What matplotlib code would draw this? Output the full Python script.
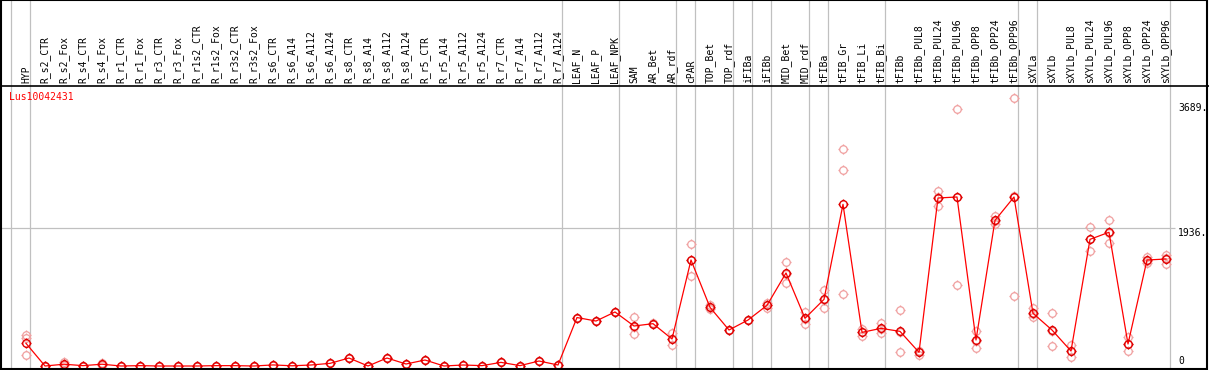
import matplotlib
matplotlib.use('Agg')
import matplotlib.pyplot as plt
import numpy as np
from matplotlib.path import Path

gene_id = 'Lus10042431'

samples = ['HYP',
           'R_s2_CTR', 'R_s2_Fox', 'R_s4_CTR', 'R_s4_Fox', 'R_r1_CTR', 'R_r1_Fox',
           'R_r3_CTR', 'R_r3_Fox', 'R_r1s2_CTR', 'R_r1s2_Fox', 'R_r3s2_CTR', 'R_r3s2_Fox',
           'R_s6_CTR', 'R_s6_A14', 'R_s6_A112', 'R_s6_A124',
           'R_s8_CTR', 'R_s8_A14', 'R_s8_A112', 'R_s8_A124',
           'R_r5_CTR', 'R_r5_A14', 'R_r5_A112', 'R_r5_A124',
           'R_r7_CTR', 'R_r7_A14', 'R_r7_A112', 'R_r7_A124',
           'LEAF_N', 'LEAF_P', 'LEAF_NPK', 'SAM', 'AR_Bet', 'AR_rdf', 'cPAR',
           'TOP_Bet', 'TOP_rdf', 'iFIBa', 'iFIBb', 'MID_Bet', 'MID_rdf',
           'tFIBa', 'tFIB_Gr', 'tFIB_Li', 'tFIB_Bi',
           'tFIBb', 'tFIBb_PUL8', 'tFIBb_PUL24', 'tFIBb_PUL96',
           'tFIBb_OPP8', 'tFIBb_OPP24', 'tFIBb_OPP96',
           'sXYLa', 'sXYLb', 'sXYLb_PUL8', 'sXYLb_PUL24', 'sXYLb_PUL96',
           'sXYLb_OPP8', 'sXYLb_OPP24', 'sXYLb_OPP96']

means = [318,
         0, 25, 5, 25, 0, 5, 0, 0, 0, 5, 5, 0,
         15, 3, 14, 37, 112, 0, 112, 28, 84, 0, 14, 5, 51, 5, 70, 14,
         680, 631, 758, 561, 594, 379, 1487, 823, 505, 645, 851, 1305, 669,
         935, 2268, 472, 528, 486, 192, 2357, 2371, 365, 2043, 2371,
         739, 505, 210, 1777, 1876, 309, 1487, 1501]

rep1 = [435,
        0, 50, 5, 45, 0, 5, 0, 0, 0, 5, 5, 0,
        15, 3, 14, 37, 112, 0, 112, 28, 84, 0, 14, 5, 51, 5, 70, 14,
        680, 631, 758, 683, 605, 458, 1707, 851, 510, 645, 888, 1459, 758,
        1066, 3040, 514, 603, 786, 215, 2455, 3606, 491, 2109, 3755,
        809, 744, 295, 1945, 2043, 407, 1534, 1553]

rep2 = [390,
        0, 15, 5, 20, 0, 5, 0, 0, 0, 5, 5, 0,
        15, 3, 14, 37, 112, 0, 112, 28, 84, 0, 14, 5, 51, 5, 70, 14,
        680, 631, 758, 449, 585, 294, 1263, 800, 500, 645, 814, 1160, 584,
        818, 2745, 421, 458, 192, 150, 2245, 1136, 253, 1988, 978,
        683, 281, 122, 1609, 1721, 210, 1450, 1431]

rep3 = [150,
        0, 10, 5, 10, 0, 5, 0, 0, 0, 5, 5, 0,
        15, 3, 14, 37, 112, 0, 112, 28, 84, 0, 14, 5, 51, 5, 70, 14,
        680, 631, 758, 551, 592, 385, 1491, 818, 505, 645, 851, 1296, 665,
        921, 1006, 481, 523, 480, 211, 2371, 2371, 351, 2032, 2380,
        725, 490, 213, 1777, 1864, 310, 1477, 1519]

# index of last sample in each group (-1 = line at left edge)
group_ends = [-1, 0, 28, 31, 34, 35, 37, 38, 39, 41, 42, 45, 52, 53, 60]

# ---- layout (pixel geometry of the original image) ----
W, H = 1209, 370
x0_px, step_px = 26, 19            # x pixel of first sample, spacing
zero_px, per_px = 366, 1936 / 138  # y pixel of value 0, value units per pixel

fig = plt.figure(figsize=(W / 100, H / 100), dpi=100)
ax = fig.add_axes([0, 0, 1, 1])
ax.set_xlim(-x0_px / step_px, (W - x0_px) / step_px)
ax.set_ylim(-(H - zero_px) * per_px, zero_px * per_px)
ax.axis('off')


def px_to_val(y_px):
    return (zero_px - y_px) * per_px


n = len(samples)
x = np.arange(n)
off = 4 / step_px
mono = 'DejaVu Sans Mono'

# separators between groups
for g in group_ends:
    ax.axvline(g + off, color='#c0c0c0', lw=0.9, zorder=1)

ax.hlines(1936, ax.get_xlim()[0], 60 + off + 0.25, color='#c0c0c0', lw=0.9, zorder=1)

# header line and frame
ax.axhline(px_to_val(85.5), color='black', lw=1.2, zorder=5)
frame = plt.Rectangle((0.001, 0.003), 0.997, 0.996, transform=ax.transAxes,
                      fill=False, edgecolor='black', lw=1.5, zorder=6)
ax.add_patch(frame)

# sample labels
for i, name in enumerate(samples):
    ax.text(i, px_to_val(83), name, rotation=90, ha='center', va='bottom',
            family=mono, fontsize=7, color='black')

ax.text(-17 / step_px, px_to_val(97), gene_id, ha='left', va='center',
        family=mono, fontsize=7, color='red')

# value marks on the right
lx = (1178 - x0_px) / step_px
ax.text(lx, 3689, '3689.', ha='left', va='top', family=mono, fontsize=7)
ax.text(lx, 1936, '1936.', ha='left', va='top', family=mono, fontsize=7)
ax.text(lx, 0, '0', ha='left', va='bottom', family=mono, fontsize=7)

# circle marker with small ticks
circ = Path.unit_circle()
ticks = [Path([[0, 1], [0, 1.35]], [Path.MOVETO, Path.LINETO]),
         Path([[0, -1], [0, -1.35]], [Path.MOVETO, Path.LINETO]),
         Path([[1, 0], [1.35, 0]], [Path.MOVETO, Path.LINETO]),
         Path([[-1, 0], [-1.35, 0]], [Path.MOVETO, Path.LINETO])]
tick_circle = Path.make_compound_path(circ, *ticks)

for reps in [rep1, rep2, rep3]:
    ax.plot(x, reps, linestyle='none', marker=tick_circle, ms=7.3, mfc='none',
            mec='#f0a0a0', mew=0.9, zorder=2)

ax.plot(x, means, color='red', lw=0.9, zorder=3)
ax.plot(x, means, linestyle='none', marker=tick_circle, ms=7.3, mfc='none',
        mec='#e00000', mew=1.0, zorder=4)

fig.savefig('out.png', dpi=100)
